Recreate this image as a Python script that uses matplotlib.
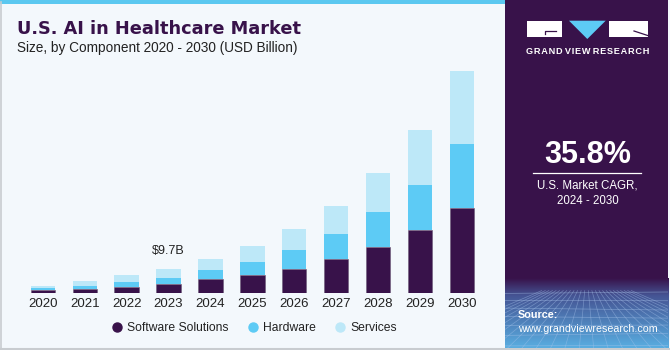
import numpy as np
import matplotlib
matplotlib.use('Agg')
import matplotlib.pyplot as plt
from matplotlib.patches import Rectangle, Polygon
from matplotlib.lines import Line2D

# values (USD billion)
years = ['2020', '2021', '2022', '2023', '2024', '2025', '2026', '2027', '2028', '2029', '2030']
software = [1.2, 1.5, 2.55, 3.5, 5.65, 7.3, 9.8, 13.9, 18.6, 25.3, 34.4]
hardware = [0.8, 1.45, 2.0, 2.7, 3.65, 5.25, 7.7, 10.0, 14.0, 18.5, 25.7]
services = [1.0, 1.9, 2.7, 3.5, 4.3, 6.35, 8.35, 11.4, 15.9, 21.9, 29.8]
series_names = ['Software Solutions', 'Hardware', 'Services']
callout_year = '2023'
callout_text = '$9.7B'

PURPLE = '#38124A'
HW_BLUE = '#5DCBF5'
SV_BLUE = '#BDE8F8'
BG = '#F3F8FC'
TXT = '#222222'

W, H = 670, 350
fig = plt.figure(figsize=(6.7, 3.5), dpi=100)
fig.patch.set_facecolor(BG)
plt.rcParams['font.family'] = ['Liberation Sans', 'DejaVu Sans']


def fx(px):
    return px / W


def fy(py):
    return 1 - py / H


# card frame + top stripe
fig.patches.append(Rectangle((0, fy(4)), fx(505), 4 / H, transform=fig.transFigure,
                             facecolor='#5BC8F0', edgecolor='none', zorder=1))
fig.add_artist(Line2D([fx(0.5), fx(0.5)], [fy(348), fy(2)], color='#C8CCD0', lw=1.2))
fig.add_artist(Line2D([0, 1], [fy(348.5), fy(348.5)], color='#C8CCD0', lw=1.5))

# --- bars -----------------------------------------------------------------
ax = fig.add_axes([0, fy(293), fx(505), (293 - 60) / H])
ax.set_facecolor('none')
x = np.arange(len(years))
bw = 0.58
sw = np.array(software)
hw = np.array(hardware)
sv = np.array(services)
ax.bar(x, sw, bw, color=PURPLE, edgecolor='#6a5a78', linewidth=0.4)
ax.bar(x, hw, bw, bottom=sw, color=HW_BLUE, edgecolor='none')
ax.bar(x, sv, bw, bottom=sw + hw, color=SV_BLUE, edgecolor='none')
ax.set_xlim(-42.8 / 41.92, (505 - 42.8) / 41.92)
ax.set_ylim(0, 233 / 2.474)
for s in ax.spines.values():
    s.set_visible(False)
ax.set_yticks([])
ax.set_xticks(x)
ax.set_xticklabels(years, fontsize=9.5, color=TXT)
ax.tick_params(axis='x', length=0, pad=3.5)

i = years.index(callout_year)
ax.annotate(callout_text, (i, sw[i] + hw[i] + sv[i]), xytext=(0, 13), textcoords='offset points',
            ha='center', va='center', fontsize=9, color=TXT)

handles = [Line2D([], [], marker='o', ls='none', markersize=6.5, color=c)
           for c in (PURPLE, HW_BLUE, SV_BLUE)]
fig.legend(handles, series_names, loc='center', bbox_to_anchor=(fx(254), fy(328)), ncol=3,
           frameon=False, fontsize=8.7, handletextpad=0.35, columnspacing=1.5,
           handlelength=1.0, labelcolor=TXT)

# --- titles ---------------------------------------------------------------
fig.text(fx(17), fy(29), 'U.S. AI in Healthcare Market', fontsize=12.8, fontweight='bold',
         color=PURPLE, va='center', ha='left', family='DejaVu Sans')
fig.text(fx(17), fy(48), 'Size, by Component 2020 - 2030 (USD Billion)', fontsize=9.8,
         color=TXT, va='center', ha='left')

# --- right panel ----------------------------------------------------------
fig.patches.append(Rectangle((fx(505), fy(348)), fx(668) - fx(505), fy(0) - fy(348),
                             transform=fig.transFigure, facecolor=PURPLE, edgecolor='none', zorder=1))

# gradient + wire grid at the bottom of the panel
gax = fig.add_axes([fx(505), fy(348), fx(668) - fx(505), (348 - 278) / H])
gax.set_zorder(2)
gax.set_axis_off()
top = np.array([0.22, 0.07, 0.29])
mid = np.array([0.27, 0.33, 0.58])
bot = np.array([0.35, 0.68, 0.88])
t = np.linspace(0, 1, 200)[:, None]
grad = np.where(t < 0.25, top + (mid - top) * (t / 0.25), mid + (bot - mid) * ((t - 0.25) / 0.75))
gax.imshow(grad[:, None, :].repeat(2, axis=1), aspect='auto', extent=[0, 1, 0, 1], origin='upper')
ys = [0.78, 0.68, 0.57, 0.45, 0.32, 0.18, 0.03]
for yy in ys:
    gax.plot([0, 1], [yy, yy + 0.03 * np.sin(yy * 9)], color='#A8C4EC', lw=0.5, alpha=0.5)
for xx in np.linspace(-0.6, 1.6, 26):
    gax.plot([0.5 + (xx - 0.5) * 0.25, xx], [0.82, 0], color='#A8C4EC', lw=0.5, alpha=0.45)
gax.set_xlim(0, 1)
gax.set_ylim(0, 1)

# logo
fig.patches.append(Rectangle((fx(527), fy(36.7)), fx(562.3) - fx(527), fy(20.7) - fy(36.7),
                             transform=fig.transFigure, facecolor='white', edgecolor='none', zorder=3))
fig.add_artist(Line2D([fx(545), fx(545), fx(556)], [fy(34), fy(30.5), fy(30.5)],
                      color=PURPLE, lw=0.9, zorder=4))
fig.patches.append(Polygon([(fx(569), fy(20.7)), (fx(605.7), fy(20.7)), (fx(587.3), fy(39))],
                           closed=True, transform=fig.transFigure, facecolor=HW_BLUE,
                           edgecolor='none', zorder=3))
fig.patches.append(Rectangle((fx(609.3), fy(36.7)), fx(647.7) - fx(609.3), fy(20.7) - fy(36.7),
                             transform=fig.transFigure, facecolor='white', edgecolor='none', zorder=3))
fig.add_artist(Line2D([fx(634), fx(647.7)], [fy(31), fy(35.5)], color=PURPLE, lw=0.9, zorder=4))
fig.text(fx(587.5), fy(51), 'G R A N D   V I E W   R E S E A R C H'.replace(' ', '\u200a'),
         fontsize=6.6, fontweight='bold', color='white', ha='center', va='center', zorder=5)

fig.text(fx(587.5), fy(155), '35.8%', fontsize=22, fontweight='bold', color='white',
         ha='center', va='center')
fig.add_artist(Line2D([fx(533), fx(641)], [fy(173), fy(173)], color='white', lw=0.9))
fig.text(fx(587.5), fy(185.5), 'U.S. Market CAGR,', fontsize=8.3, color='white', ha='center', va='center')
fig.text(fx(587.5), fy(201.5), '2024 - 2030', fontsize=8.3, color='white', ha='center', va='center')
fig.text(fx(518), fy(315), 'Source:', fontsize=7.8, fontweight='bold', color='white',
         ha='left', va='center', zorder=5)
fig.text(fx(518), fy(329.5), 'www.grandviewresearch.com', fontsize=7.7, color='white',
         ha='left', va='center', zorder=5)

fig.savefig('out.png', dpi=100, facecolor=BG)
